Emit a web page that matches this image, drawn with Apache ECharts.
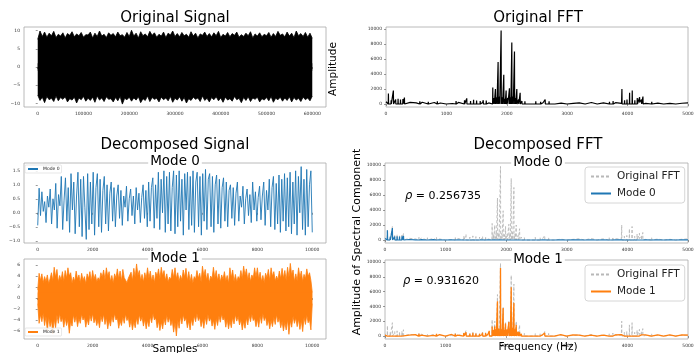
<!DOCTYPE html>
<html>
<head>
<meta charset="utf-8">
<script src="https://cdn.jsdelivr.net/npm/echarts@6/dist/echarts.min.js"></script>
<style>
  html, body { margin: 0; padding: 0; background: #fff; }
  #chart { width: 700px; height: 353px; }
</style>
</head>
<body>
<div id="chart"></div>
<script>
// ---- data ----

// original signal: upper / lower edge of the dense trace, 0..600000 samples
const sigUpper = [7.6, 9.9, 8.4, 9.6, 8.2, 9.3, 8.6, 9.8, 8.1, 9.0, 8.5, 9.4, 8.0, 9.2, 8.7, 9.7, 8.3, 9.1, 8.6, 9.5,
  8.2, 8.9, 8.8, 9.6, 8.0, 9.3, 8.4, 9.9, 8.5, 9.0, 8.1, 9.4, 8.7, 9.2, 8.3, 9.6, 8.6, 8.9, 8.2, 9.5,
  8.4, 10.1, 8.5, 9.3, 8.0, 9.7, 8.6, 9.1, 8.3, 9.8, 8.7, 9.4, 8.2, 9.0, 8.5, 9.6, 8.1, 9.3, 8.8, 9.9,
  8.4, 9.2, 8.3, 9.5, 8.6, 9.0, 8.2, 9.7, 8.5, 9.3, 8.0, 9.1, 8.7, 9.6, 8.4, 9.2, 8.3, 9.4, 8.6, 9.8,
  8.1, 9.0, 8.5, 9.5, 8.3, 9.2, 8.7, 9.6, 8.2, 8.9, 8.4, 9.3, 8.6, 9.7, 8.0, 9.1, 8.5, 9.4, 8.3, 9.0,
  8.6, 9.5, 8.2, 9.2, 8.4, 9.8, 8.7, 9.1, 8.3, 9.6, 8.5, 9.3, 8.1, 9.9, 8.6, 9.2, 8.4, 9.5, 8.2, 9.3, 7.9];
const sigLower = [-7.7, -9.2, -8.3, -9.8, -8.1, -9.0, -8.6, -9.5, -8.0, -9.3, -8.4, -8.9, -8.2, -9.6, -8.7, -9.1, -8.3, -9.9, -8.5, -9.0,
  -8.1, -9.4, -8.6, -9.2, -8.3, -9.7, -8.0, -9.1, -8.5, -9.5, -8.2, -8.9, -8.7, -9.6, -8.4, -9.3, -8.1, -10.2, -8.6, -9.0,
  -8.3, -9.4, -8.5, -9.1, -8.2, -9.8, -8.7, -9.2, -8.0, -9.5, -8.4, -8.9, -8.6, -9.6, -8.3, -9.0, -8.5, -9.3, -8.1, -9.7,
  -8.6, -9.1, -8.2, -9.4, -8.4, -9.9, -8.7, -9.2, -8.3, -8.9, -8.5, -9.5, -8.0, -9.2, -8.6, -9.6, -8.4, -9.0, -8.2, -9.3,
  -8.5, -9.7, -8.3, -9.1, -8.7, -9.4, -8.1, -9.0, -8.6, -9.8, -8.4, -9.2, -8.2, -9.5, -8.5, -8.9, -8.3, -9.6, -8.7, -9.1,
  -8.4, -9.3, -8.1, -9.7, -8.6, -9.0, -8.3, -9.4, -8.5, -9.2, -8.2, -9.6, -8.4, -9.1, -8.6, -9.5, -8.3, -9.0, -8.5, -9.3, -8.0];

// mode 0 (blue), 0..10000 samples
const mode0Sig = [-0.45, 0.88, -0.1, 0.75, 0.05, 0.4, -0.35, 0.6, 0.2, 0.85, -0.4, 0.5, 0.1, 1.05, -0.55, 0.65, 0.25, 1.3, -0.6, 0.45,
  1.25, -0.3, 0.9, -0.7, 1.4, 0.1, 1.1, -0.75, 0.6, 1.45, -0.5, 1.2, -0.85, 1.3, 0.2, -0.95, 1.4, -0.6, 1.1, -0.4,
  1.45, -0.8, 0.9, 1.4, -0.5, 1.2, -0.7, 0.8, 1.3, -0.4, 1.0, -0.65, 0.7, 1.1, -0.3, 0.9, -0.5, 0.6, 1.0, -0.2,
  0.8, -0.45, 0.6, 0.2, 0.95, -0.3, 0.5, 0.85, -0.1, 0.6, -0.4, 0.9, 0.1, 0.7, -0.35, 0.55, 1.0, -0.2, 0.8, -0.5,
  1.1, -0.3, 0.9, 1.25, -0.55, 1.0, -0.2, 1.45, -0.6, 1.2, 0.0, 1.5, -0.7, 1.3, -0.4, 1.45, -0.65, 0.9, 1.5, -0.75,
  1.35, -0.5, 1.5, -0.3, 1.2, -0.8, 1.4, 0.1, 1.45, -0.6, 1.3, -0.45, 1.5, -0.7, 1.1, 1.45, -0.5, 1.3, -0.8, 1.4,
  -0.3, 1.55, -0.6, 1.2, 1.4, -0.5, 1.3, -0.7, 1.0, 1.35, -0.4, 1.2, -0.55, 0.9, 1.25, -0.3, 1.1, -0.5, 0.8, 1.0,
  -0.2, 0.9, -0.45, 0.7, 1.1, -0.3, 0.6, 0.2, 0.95, -0.4, 0.5, 0.85, -0.1, 0.65, -0.35, 1.1, 0.1, 0.75, -0.3, 0.55,
  0.95, -0.25, 0.6, 1.1, -0.45, 0.8, 0.1, 1.2, -0.5, 0.9, 1.3, -0.6, 1.05, -0.4, 1.35, -0.7, 1.2, -0.3, 1.4, -0.65,
  1.25, -0.5, 1.45, -0.75, 1.1, -0.4, 1.5, -0.8, 1.3, 0.0, 1.65, -0.6, 1.2, -0.8, 1.55, -0.5, 1.0, 1.5, -0.7];

// mode 1 (orange): upper / lower edge of the dense trace, 0..10000 samples
const mode1Upper = [1.5, 4.5, 3.2, 4.4, 2.8, 3.9, 3.0, 4.2, 2.6, 3.5,
  4.6, 3.1, 5.6, 3.8, 5.2, 2.9, 4.1, 3.3, 4.8, 3.0,
  5.0, 3.6, 5.5, 4.0, 4.6, 2.7, 3.8, 3.0, 4.9, 3.4,
  4.2, 2.8, 4.5, 3.2, 3.9, 2.6, 4.4, 3.5, 4.8, 3.0,
  5.0, 3.4, 4.3, 2.9, 3.7, 3.2, 4.6, 3.8, 5.1, 3.3,
  5.5, 3.9, 4.8, 3.0, 4.1, 2.7, 4.4, 3.6, 5.3, 3.5,
  4.9, 3.1, 5.2, 3.7, 4.0, 2.8, 3.6, 3.3, 4.7, 3.2,
  5.4, 3.8, 6.2, 4.1, 5.0, 3.2, 4.3, 2.9, 4.6, 3.5,
  5.5, 3.6, 4.9, 3.1, 4.2, 2.8, 4.7, 3.9, 5.3, 3.4,
  5.6, 4.0, 5.0, 3.2, 4.4, 2.9, 3.8, 3.4, 5.2, 3.7,
  5.5, 3.5, 4.6, 3.0, 4.1, 3.3, 5.1, 3.8, 5.4, 3.1,
  4.8, 3.0, 4.3, 2.7, 3.9, 3.4, 5.0, 3.6, 4.5, 2.9,
  5.8, 4.0, 5.2, 3.3, 4.5, 2.8, 4.0, 3.5, 5.6, 3.6,
  5.0, 3.2, 4.4, 2.9, 4.2, 3.4, 4.8, 3.1, 4.1, 2.7,
  5.5, 3.7, 5.1, 3.0, 4.3, 2.9, 3.9, 3.4, 5.0, 3.5,
  5.8, 4.1, 5.3, 3.3, 4.6, 3.0, 4.2, 3.6, 5.5, 3.8,
  5.5, 3.4, 4.7, 3.0, 4.1, 2.8, 4.5, 3.7, 5.2, 3.2,
  5.5, 3.9, 4.8, 3.1, 4.0, 3.3, 4.9, 3.5, 5.4, 3.6,
  5.0, 3.2, 5.6, 3.8, 6.3, 4.2, 5.1, 3.0, 4.4, 3.1,
  5.5, 3.7, 4.9, 3.0, 4.3, 3.5, 5.3, 3.9, 4.6, 3.2, 1.0];
const mode1Lower = [-1.0, -4.6, -3.0, -4.3, -2.7, -5.0, -3.3, -6.0, -3.4, -5.2,
  -4.0, -6.5, -3.8, -5.4, -3.1, -4.6, -2.8, -4.3, -3.5, -5.3,
  -3.6, -5.0, -3.9, -6.4, -4.2, -5.1, -3.0, -4.4, -3.3, -5.2,
  -3.7, -4.6, -2.9, -4.0, -3.4, -5.3, -3.8, -4.9, -3.1, -4.2,
  -2.8, -4.5, -3.6, -5.0, -3.9, -5.4, -3.2, -4.3, -2.9, -4.8,
  -3.5, -5.6, -4.0, -5.1, -3.3, -4.4, -2.8, -4.0, -3.6, -5.5,
  -4.1, -5.0, -3.4, -4.6, -2.9, -4.1, -3.5, -5.3, -3.9, -5.8,
  -4.2, -5.4, -3.6, -4.8, -3.0, -4.2, -3.4, -5.1, -3.8, -5.6,
  -4.0, -5.2, -3.3, -4.5, -2.8, -4.0, -3.6, -5.4, -4.1, -5.9,
  -4.3, -5.6, -3.7, -4.9, -3.1, -4.4, -3.5, -5.0, -4.0, -6.2,
  -4.4, -6.9, -4.0, -5.5, -3.3, -4.7, -3.0, -4.2, -3.6, -5.4,
  -4.1, -5.8, -3.8, -5.0, -3.2, -4.3, -2.8, -4.1, -3.5, -5.2,
  -3.9, -5.5, -3.4, -4.8, -3.0, -4.2, -3.6, -5.1, -4.0, -5.7,
  -3.7, -5.0, -3.2, -4.4, -2.9, -4.0, -3.5, -5.3, -3.8, -5.6,
  -4.1, -5.4, -3.5, -4.7, -3.0, -4.2, -3.3, -4.9, -3.9, -5.8,
  -4.2, -5.5, -3.6, -4.9, -3.1, -4.3, -2.9, -4.1, -3.7, -5.2,
  -3.8, -5.3, -3.2, -4.6, -2.8, -4.1, -3.4, -5.0, -3.9, -5.6,
  -4.0, -5.2, -3.5, -4.8, -3.0, -4.4, -3.6, -5.4, -4.2, -6.0,
  -4.4, -5.8, -3.9, -6.6, -4.1, -5.3, -3.3, -4.6, -3.6, -5.2,
  -3.8, -5.7, -4.0, -6.1, -3.5, -4.8, -3.1, -4.5, -3.9, -5.8, -1.0];

// FFT peaks (Hz) and their amplitudes
const fftFreq = [40, 85, 122, 160, 200, 240, 280, 305,
  420, 560, 700, 850, 1000,
  1160, 1230, 1300, 1337, 1400, 1450, 1500, 1560, 1610, 1660, 1720,
  1768, 1790, 1812, 1835, 1856, 1880, 1906, 1928, 1950, 1970, 1989, 2015, 2044, 2065, 2083, 2105, 2127, 2145, 2166, 2195,
  2221, 2250, 2300, 2400, 2480, 2560, 2635,
  2700, 2800, 3000, 3300, 3500, 3700,
  3760, 3906, 3950, 3990, 4033, 4077, 4120, 4160, 4199, 4230, 4254,
  4400, 4600, 4800];
const origAmp = [1400, 500, 1800, 600, 700, 600, 650, 850,
  300, 350, 300, 350, 250,
  400, 350, 500, 750, 400, 550, 450, 400, 500, 450, 400,
  2200, 800, 2000, 900, 5600, 1000, 9800, 900, 3900, 700, 1800, 800, 2100, 900, 8200, 1000, 7000, 800, 2000, 600,
  1500, 400, 350, 300, 350, 300, 600,
  350, 250, 200, 200, 250, 300,
  400, 2000, 500, 600, 1500, 1800, 500, 800, 900, 600, 1000,
  300, 250, 200];
const mode0Amp = [1300, 350, 1600, 450, 500, 450, 500, 550,
  120, 100, 80, 60, 50,
  40, 35, 40, 45, 40, 35, 40, 40, 35, 40, 45,
  50, 40, 45, 40, 55, 40, 60, 40, 50, 40, 45, 40, 50, 40, 55, 40, 50, 40, 45, 40,
  40, 35, 30, 30, 35, 30, 40,
  30, 30, 25, 25, 30, 30,
  30, 40, 30, 30, 35, 40, 30, 30, 35, 30, 35,
  25, 25, 25];
const mode1Amp = [150, 120, 180, 130, 140, 120, 150, 160,
  250, 300, 250, 300, 200,
  300, 250, 400, 500, 300, 450, 350, 300, 450, 400, 700,
  1300, 800, 1300, 900, 4700, 1000, 9200, 900, 3800, 800, 1700, 900, 1900, 1000, 6600, 1100, 4500, 900, 1500, 600,
  500, 300, 250, 200, 250, 200, 400,
  200, 150, 120, 120, 150, 200,
  150, 250, 150, 150, 200, 250, 150, 150, 200, 150, 200,
  150, 150, 120];

// FFT noise floor, every 100 Hz from 0 to 5000
const origFloor = [300, 120, 260, 90, 220, 150, 240, 80, 200, 130, 180, 70, 210, 110, 250, 90, 190, 140, 230, 100,
  260, 120, 200, 80, 210, 150, 170, 90, 240, 110, 190, 80, 160, 120, 200, 70, 150, 100, 180, 90,
  230, 110, 200, 80, 170, 120, 150, 90, 180, 100, 140];
const mode0Floor = [200, 60, 90, 40, 70, 30, 50, 25, 40, 20, 35, 15, 30, 20, 25, 18, 30, 22, 25, 15,
  28, 20, 26, 15, 30, 18, 25, 15, 28, 20, 24, 16, 30, 20, 25, 15, 27, 20, 25, 16,
  30, 19, 25, 15, 28, 20, 24, 15, 30, 20, 25];
const mode1Floor = [120, 160, 90, 180, 110, 200, 130, 170, 100, 190, 140, 210, 120, 180, 150, 230, 170, 260, 200, 300,
  250, 280, 220, 260, 190, 230, 160, 200, 140, 180, 120, 170, 110, 160, 130, 190, 120, 170, 140, 200,
  130, 180, 110, 160, 120, 170, 100, 150, 120, 160, 110];

// tick labels
const sigTicksX = [0, 100000, 200000, 300000, 400000, 500000, 600000];
const sigTicksY = [-10, -5, 0, 5, 10];
const modeTicksX = [0, 2000, 4000, 6000, 8000, 10000];
const mode0TicksY = [-1.0, -0.5, 0.0, 0.5, 1.0, 1.5];
const mode1TicksY = [-6, -4, -2, 0, 2, 4, 6];
const fftTicksX = [0, 1000, 2000, 3000, 4000, 5000];
const fftTicksY = [0, 2000, 4000, 6000, 8000, 10000];

// ---- helpers ----
const FONT = '"DejaVu Sans", sans-serif';
const BLUE = '#1f77b4';
const ORANGE = '#ff7f0e';
const GREY = '#b8b8b8';

// spread a sampled array evenly over [0, span]
const spread = (arr, span) => arr.map((v, i) => [i * span / (arr.length - 1), v]);

// spectrum line: noise floor + narrow peaks
function spectrum(floor, amps) {
  const pts = spread(floor, 5000);
  fftFreq.forEach((f, i) => {
    pts.push([f - 3, 0], [f, amps[i]], [f + 3, 0]);
  });
  pts.sort((a, b) => a[0] - b[0]);
  return pts;
}

const minusFmt = v => (v < 0 ? '\u2212' : '') + Math.abs(v);
const minusFmt1 = v => (v < 0 ? '\u2212' : '') + Math.abs(v).toFixed(1);

function axis(gridIndex, min, max, ticks, fmt) {
  return {
    type: 'value',
    gridIndex: gridIndex,
    min: min,
    max: max,
    axisLine: { show: false },
    splitLine: { show: false },
    axisTick: { show: true, length: 2, customValues: ticks, lineStyle: { color: '#555', width: 0.6 } },
    axisLabel: {
      customValues: ticks,
      fontSize: 4.5,
      fontFamily: FONT,
      color: '#333',
      margin: 4,
      formatter: fmt || (v => String(v))
    }
  };
}

const grids = [
  { left: 24, top: 27, width: 302, height: 80 },   // original signal
  { left: 386, top: 27, width: 302, height: 80 },  // original fft
  { left: 24, top: 163, width: 302, height: 80 },  // mode 0 signal
  { left: 24, top: 259, width: 302, height: 80 },  // mode 1 signal
  { left: 385, top: 163, width: 303, height: 80 }, // mode 0 fft
  { left: 385, top: 260, width: 303, height: 79 }  // mode 1 fft
].map(g => Object.assign({ show: true, borderColor: '#a8a8a8', borderWidth: 0.8, backgroundColor: '#fff' }, g));

const xAxes = [
  axis(0, -30000, 630000, sigTicksX),
  axis(1, 0, 5000, fftTicksX),
  axis(2, -500, 10500, modeTicksX),
  axis(3, -500, 10500, modeTicksX),
  axis(4, 0, 5000, fftTicksX),
  axis(5, 0, 5000, fftTicksX)
];
const yAxes = [
  axis(0, -11, 11, sigTicksY, minusFmt),
  axis(1, -400, 10270, fftTicksY),
  axis(2, -1.08, 1.78, mode0TicksY, minusFmt1),
  axis(3, -7.45, 7.1, mode1TicksY, minusFmt),
  axis(4, -400, 10270, fftTicksY),
  axis(5, -400, 10270, fftTicksY)
];

function line(name, idx, data, color, width, extra) {
  return Object.assign({
    name: name,
    type: 'line',
    xAxisIndex: idx,
    yAxisIndex: idx,
    data: data,
    symbol: 'none',
    silent: true,
    lineStyle: { color: color, width: width },
    itemStyle: { color: color }
  }, extra || {});
}

const series = [
  // original signal: dense trace as a filled band
  line('sigUp', 0, spread(sigUpper, 600000), '#000', 0.8, { areaStyle: { color: '#000', opacity: 1, origin: -1 } }),
  line('sigLow', 0, spread(sigLower, 600000), '#000', 0.8, { areaStyle: { color: '#000', opacity: 1, origin: 1 } }),
  // original fft
  line('origBlack', 1, spectrum(origFloor, origAmp), '#000', 1.2),
  // mode 0 signal
  line('sig0', 2, spread(mode0Sig, 10000), BLUE, 0.9),
  // mode 1 signal
  line('sig1', 3, spread(mode1Upper, 10000), ORANGE, 0.8, { areaStyle: { color: ORANGE, opacity: 1, origin: -1 } }),
  line('sig1Low', 3, spread(mode1Lower, 10000), ORANGE, 0.8, { areaStyle: { color: ORANGE, opacity: 1, origin: 1 } }),
  // decomposed fft
  line('orig0', 4, spectrum(origFloor, origAmp), GREY, 0.9, { lineStyle: { color: GREY, width: 0.9, type: [3, 2] } }),
  line('fft0', 4, spectrum(mode0Floor, mode0Amp), BLUE, 1.2),
  line('orig1', 5, spectrum(origFloor, origAmp), GREY, 0.9, { lineStyle: { color: GREY, width: 0.9, type: [3, 2] } }),
  line('fft1', 5, spectrum(mode1Floor, mode1Amp), ORANGE, 1.3)
];

const legendText = { sig0: 'Mode 0', sig1: 'Mode 1', orig0: 'Original FFT', orig1: 'Original FFT', fft0: 'Mode 0', fft1: 'Mode 1' };

function legend(names, left, top, big) {
  return {
    data: names,
    left: left,
    top: top,
    orient: 'vertical',
    selectedMode: false,
    itemWidth: big ? 20 : 10,
    itemHeight: big ? 10 : 5,
    itemGap: big ? 6 : 1,
    padding: big ? [4, 5] : [1.5, 2],
    borderColor: '#d6d6d6',
    borderWidth: big ? 1 : 0.6,
    borderRadius: big ? 3 : 1,
    backgroundColor: 'rgba(255,255,255,0.85)',
    itemStyle: { opacity: 0 },
    textStyle: { fontSize: big ? 10.5 : 4.5, fontFamily: FONT, color: '#222', padding: big ? [0, 0, 0, 1] : 0 },
    formatter: n => legendText[n]
  };
}

function txt(text, x, y, size, extra) {
  extra = extra || {};
  return {
    type: 'text',
    x: x,
    y: y,
    z: 100,
    silent: true,
    rotation: extra.rotation || 0,
    style: Object.assign({
      text: text,
      font: size + 'px ' + FONT,
      fill: '#000',
      textAlign: 'center',
      textVerticalAlign: 'middle'
    }, extra.style || {})
  };
}

const onWhite = { style: { backgroundColor: '#fff', padding: [0, 2] } };
const rhoRich = { style: { textAlign: 'left', rich: { r: { fontStyle: 'italic', fontSize: 11.5, fontFamily: FONT } } } };

const graphic = [
  txt('Original Signal', 175, 18, 15),
  txt('Original FFT', 538, 18, 15),
  txt('Decomposed Signal', 175, 145.5, 15),
  txt('Decomposed FFT', 538, 145.5, 15),
  txt('Mode 0', 175, 161.5, 13.5, onWhite),
  txt('Mode 0', 538, 162, 13.5, onWhite),
  txt('Mode 1', 175, 258, 13.5, onWhite),
  txt('Mode 1', 538, 259, 13.5, onWhite),
  txt('Amplitude', 333, 69, 10.5, { rotation: Math.PI / 2 }),
  txt('Amplitude of Spectral Component', 357, 242, 11, { rotation: Math.PI / 2 }),
  txt('Samples', 175, 349, 10.5),
  txt('Frequency (Hz)', 538, 347, 10.5),
  txt('{r|\u03c1} = 0.256735', 405, 196, 11, rhoRich),
  txt('{r|\u03c1} = 0.931620', 403, 281, 11, rhoRich)
];

const chart = echarts.init(document.getElementById('chart'), null, { renderer: 'canvas' });
chart.setOption({
  animation: false,
  backgroundColor: '#fff',
  grid: grids,
  xAxis: xAxes,
  yAxis: yAxes,
  legend: [
    legend(['sig0'], 25, 165, false),
    legend(['sig1'], 25, 328, false),
    legend(['orig0', 'fft0'], 585, 167, true),
    legend(['orig1', 'fft1'], 585, 265, true)
  ],
  series: series,
  graphic: graphic
});
</script>
</body>
</html>
